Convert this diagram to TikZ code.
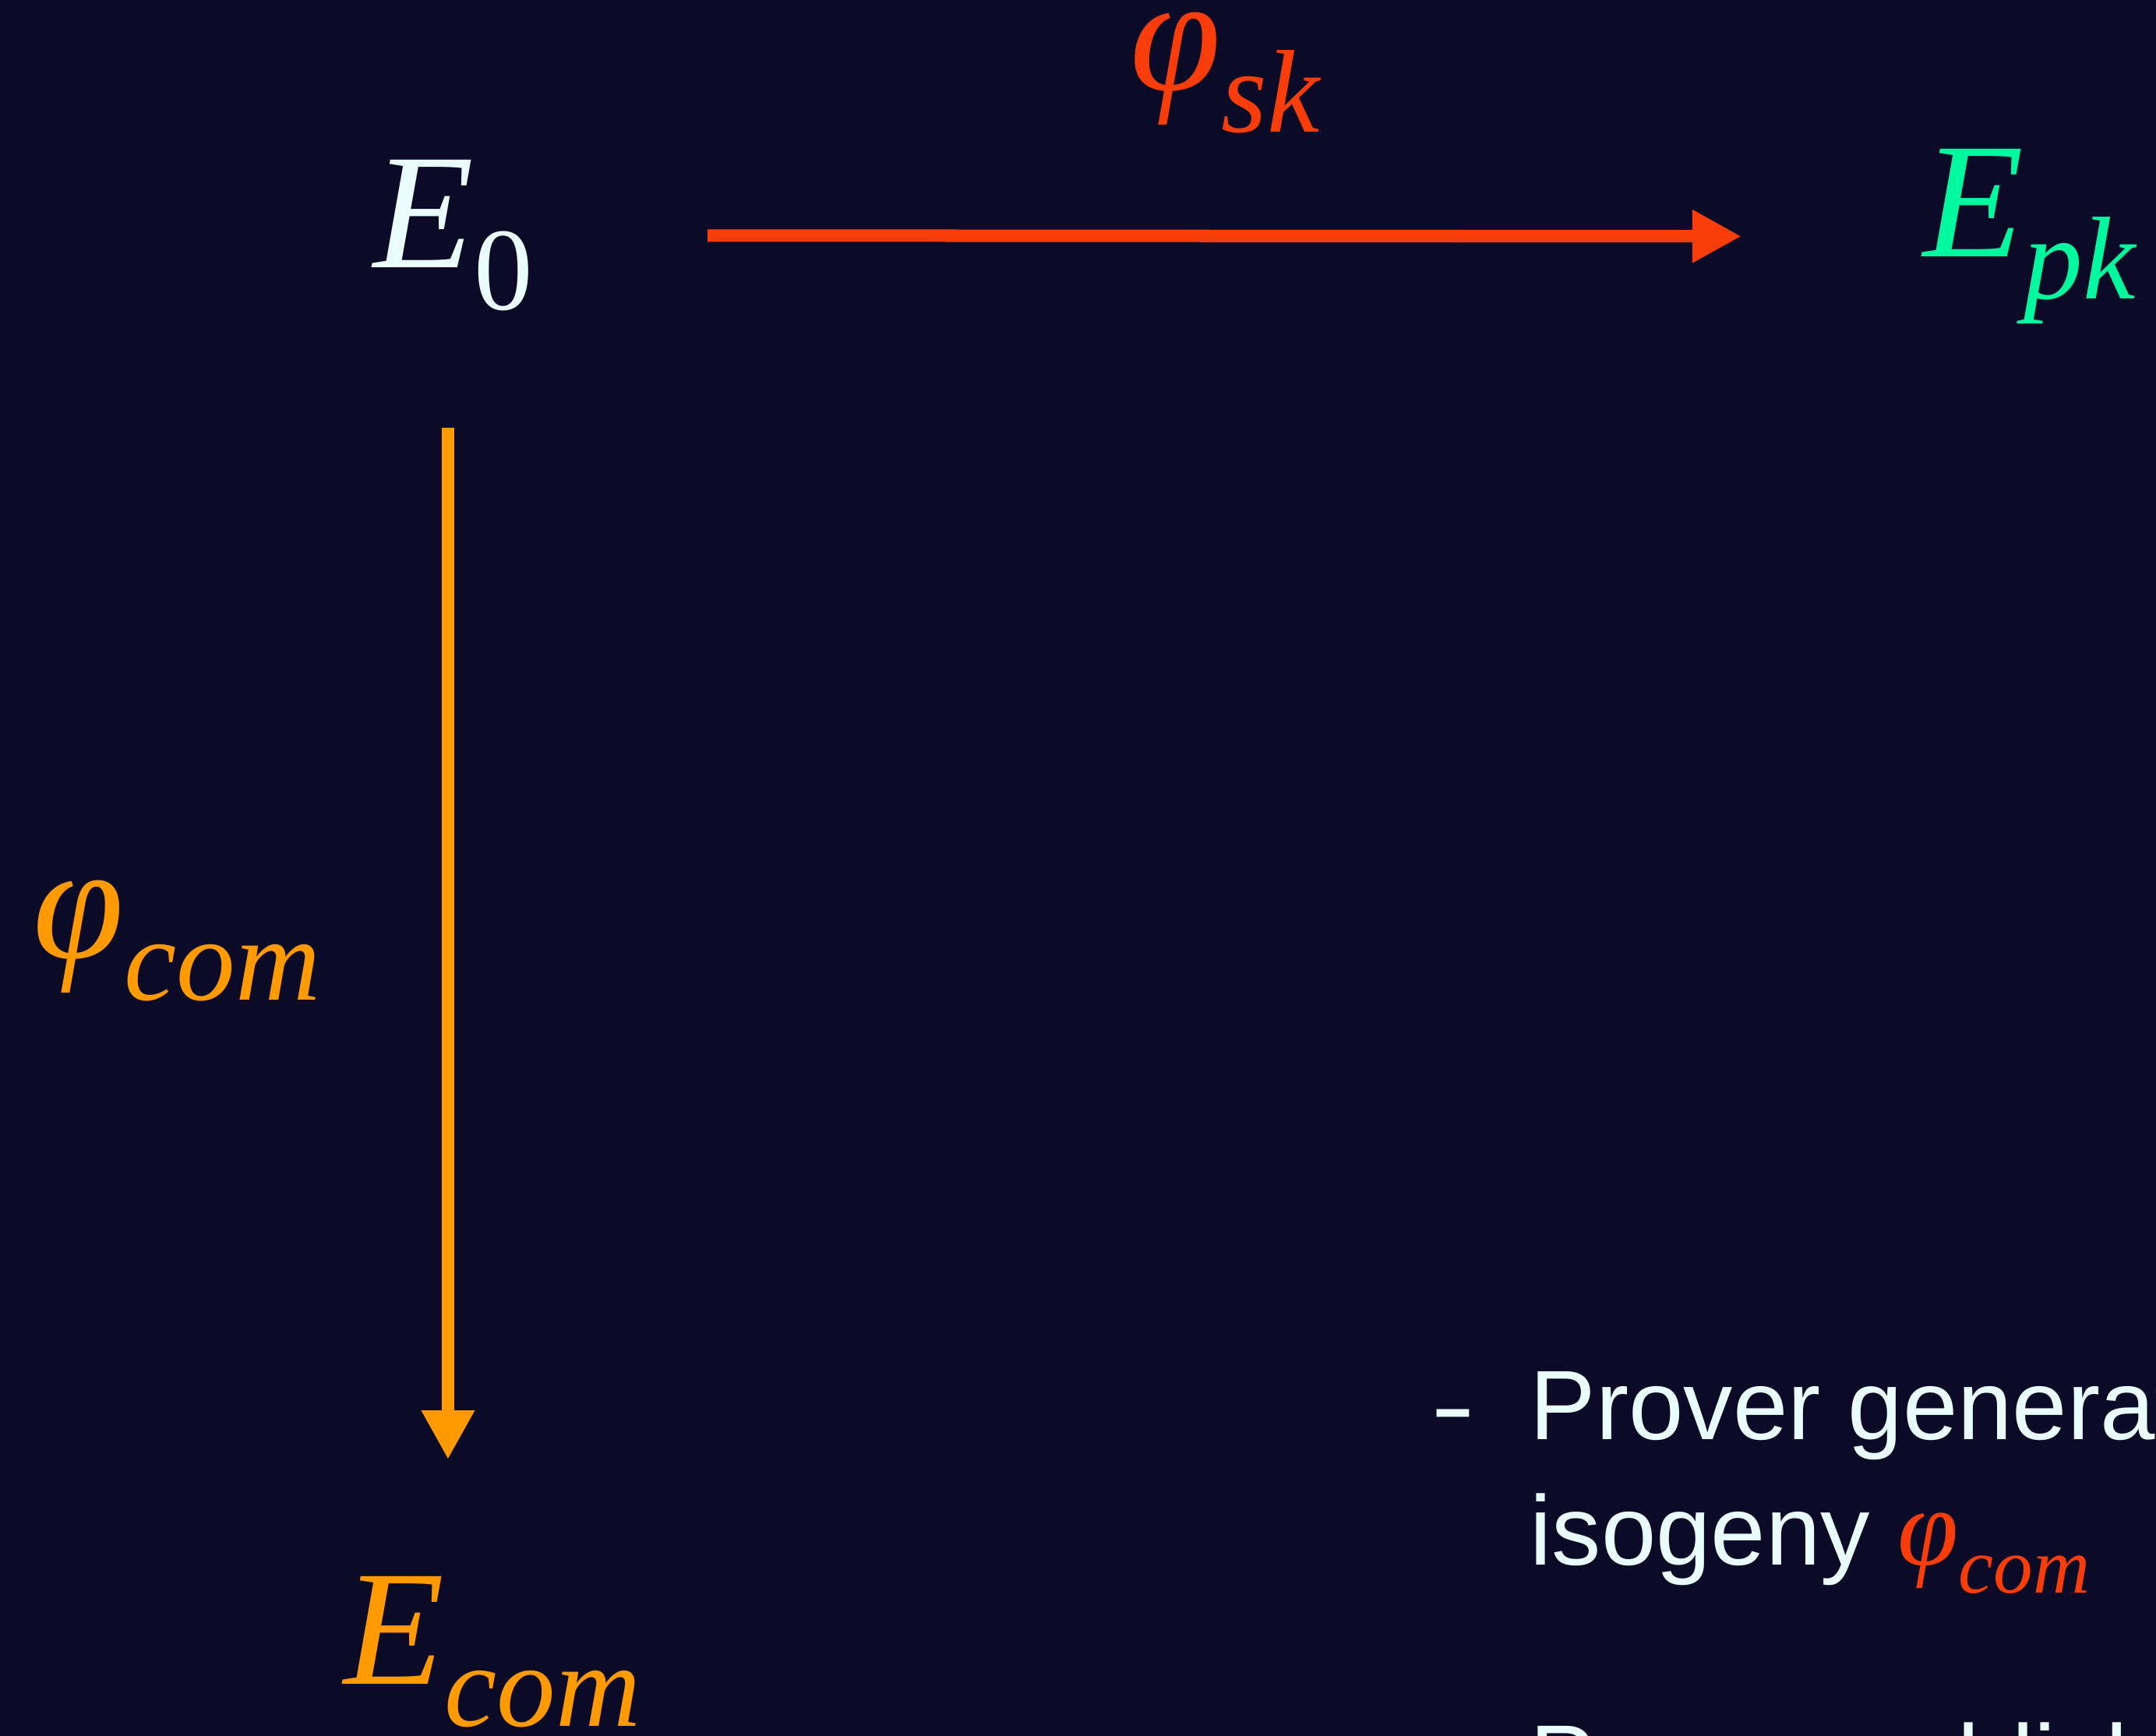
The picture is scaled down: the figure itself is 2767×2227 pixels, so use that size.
\documentclass[tikz,border=0pt]{standalone}
\usepackage{fontspec}
\setmainfont{Liberation Sans}
\newfontfamily\symfont{Liberation Serif}
\usetikzlibrary{arrows.meta}

\definecolor{bgnavy}{HTML}{0B0A27}
\definecolor{textwhite}{HTML}{EAFBFB}
\definecolor{isored}{HTML}{F83D0A}
\definecolor{pkgreen}{HTML}{00F89E}
\definecolor{comorange}{HTML}{FF9B00}

% curve / isogeny name with a lowered index
\newcommand{\isoname}[2]{{\symfont\fontsize{60}{60}\selectfont\itshape #1}\raisebox{-15.6pt}{\symfont\fontsize{43}{43}\selectfont #2}}

\begin{document}
\begin{tikzpicture}[x=0.01cm,y=-0.01cm,>=Latex]
  \tikzset{curvelabel/.style={inner sep=0pt,anchor=base west},
    bodytext/.style={inner sep=0pt,anchor=base west,text=textwhite,font=\fontsize{36}{43}\selectfont},
    isoarrow/.style={line width=0.16cm,-{Triangle[length=0.63cm,width=0.64cm]}}}

  \path[use as bounding box] (0,0) rectangle (2767,2227);
  \fill[bgnavy] (-20,-20) rectangle (2787,2247);
  \clip (0,0) rectangle (2767,2227);

  % curves
  \node[curvelabel,text=textwhite] (e0) at (479,343) {\isoname{E}{0}};
  \node[curvelabel,text=pkgreen] (epk) at (2468,329) {\isoname{E}{\itshape pk}};
  \node[curvelabel,text=comorange] (ecom) at (441,2161) {\isoname{E}{\itshape com}};

  % isogeny labels
  \node[curvelabel,text=isored] (sk) at (1450,115) {\isoname{φ}{\itshape sk}};
  \node[curvelabel,text=comorange] (com) at (42,1229) {\isoname{φ}{\itshape com}};

  \draw[isoarrow,isored,shorten <=2.23cm,shorten >=2.33cm] (e0.east) -- (epk.west);
  \draw[isoarrow,comorange,shorten <=1.49cm,shorten >=1.49cm] ([xshift=-0.07cm]e0.south) -- ([xshift=-0.07cm]e0.south |- ecom.north);

  % protocol steps
  \node[bodytext] (dash) at (1836,1847) {\scalebox{1.35}[1]{-}};
  \node[bodytext] (stepa) at (1963,1847) {Prover generates};
  \node[bodytext] (stepb) at (1963,2008) {isogeny \scalebox{0.67}{\color{isored}\isoname{φ}{\itshape com}}};
  \node[bodytext] (stepc) at (1963,2302) {Prover publishes};
\end{tikzpicture}
\end{document}
